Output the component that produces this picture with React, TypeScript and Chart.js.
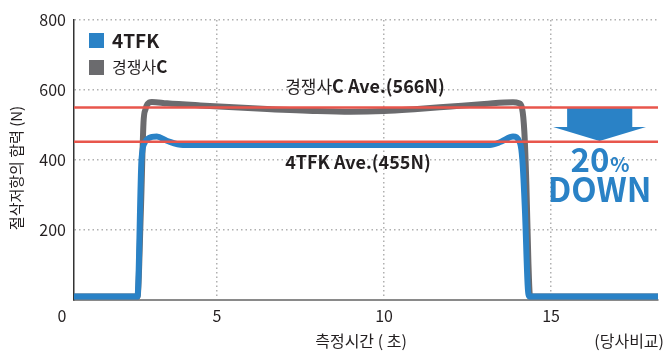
import React, { useEffect, useRef } from 'react';
import { Chart, registerables } from 'chart.js';
Chart.register(...registerables);

const xMin = 0.72;
const xMax = 18.2;
const xTicks = [5, 10, 15];
const yTicks = [200, 400, 600, 800];

const tfkX = [0.72, 2.62, 2.74, 2.84, 2.95, 3.2, 3.5, 3.98, 6, 9, 12, 13.17, 13.5, 13.86, 14.07, 14.14, 14.22, 14.3, 14.35, 18.2];
const tfkY = [10, 10, 400, 450, 462, 467, 455, 443, 443, 443, 443, 443, 452, 467, 449, 400, 250, 40, 10, 10];

const compX = [0.72, 2.62, 2.72, 2.8, 2.86, 2.92, 3.05, 3.5, 4.5, 6.5, 8, 9, 10, 11, 12, 13, 13.86, 14.04, 14.13, 14.2, 14.26, 14.32, 14.37, 18.2];
const compY = [10, 10, 250, 506, 545, 560, 566, 562, 556, 546, 540, 538, 540, 546, 553, 560, 565, 562, 548, 480, 330, 110, 10, 10];

const compAve = 550;
const tfkAve = 452;

const FONT = '"Noto Sans CJK KR", "Noto Sans", sans-serif';
const BLUE = '#2a82c6';
const GRAY = '#6b6b6e';
const RED = '#e8564c';

function pts(xs: number[], ys: number[]) {
  return xs.map((x, i) => ({ x, y: ys[i] }));
}

function runs(ctx: CanvasRenderingContext2D, x: number, y: number, parts: [string, string][], color: string) {
  let cx = x;
  ctx.fillStyle = color;
  ctx.textAlign = 'left';
  ctx.textBaseline = 'middle';
  for (const [font, t] of parts) {
    ctx.font = font;
    ctx.fillText(t, cx, y);
    cx += ctx.measureText(t).width;
  }
}

const overlay = {
  id: 'overlay',
  beforeDatasetsDraw(chart: any) {
    const { ctx, scales } = chart;
    const x = scales.x, y = scales.y;
    ctx.save();
    ctx.fillStyle = BLUE;
    const rx1 = x.getPixelForValue(15.48), rx2 = x.getPixelForValue(17.43);
    const ry1 = y.getPixelForValue(compAve), ry2 = y.getPixelForValue(494);
    ctx.fillRect(rx1, ry1, rx2 - rx1, ry2 - ry1 + 0.5);
    ctx.beginPath();
    ctx.moveTo(x.getPixelForValue(15.06), ry2);
    ctx.lineTo(x.getPixelForValue(17.84), ry2);
    ctx.lineTo(x.getPixelForValue(16.45), y.getPixelForValue(454));
    ctx.closePath();
    ctx.fill();
    ctx.restore();
  },
  afterDraw(chart: any) {
    const { ctx, chartArea, scales } = chart;
    const x = scales.x, y = scales.y;
    ctx.save();
    // legend
    const lx = chartArea.left + 15;
    ctx.fillStyle = BLUE;
    ctx.fillRect(lx, chartArea.top + 13, 15, 15);
    ctx.fillStyle = GRAY;
    ctx.fillRect(lx, chartArea.top + 40, 15, 15);
    runs(ctx, lx + 23, chartArea.top + 21, [['bold 19px ' + FONT, '4TFK']], '#231f20');
    runs(ctx, lx + 23, chartArea.top + 47, [['16px ' + FONT, '경쟁사'], ['bold 17px ' + FONT, 'C']], '#231f20');

    // average labels
    runs(ctx, x.getPixelForValue(7.04), y.getPixelForValue(611), [['17px ' + FONT, '경쟁사'], ['bold 18px ' + FONT, 'C Ave.(566N)']], '#231f20');
    runs(ctx, x.getPixelForValue(7.04), y.getPixelForValue(395), [['bold 18px ' + FONT, '4TFK Ave.(455N)']], '#231f20');

    // 20% DOWN
    const cxp = x.getPixelForValue(16.45);
    ctx.fillStyle = BLUE;
    ctx.textBaseline = 'alphabetic';
    ctx.font = 'bold 33px ' + FONT;
    const w20 = ctx.measureText('20').width;
    ctx.font = 'bold 20px ' + FONT;
    const wp = ctx.measureText('%').width;
    const sx = cxp - (w20 + wp) / 2;
    ctx.textAlign = 'left';
    ctx.font = 'bold 33px ' + FONT;
    ctx.fillText('20', sx, 172);
    ctx.font = 'bold 20px ' + FONT;
    ctx.fillText('%', sx + w20 + 1, 172);
    ctx.font = 'bold 33px ' + FONT;
    ctx.textAlign = 'center';
    ctx.fillText('DOWN', cxp, 202);

    // origin 0
    ctx.fillStyle = '#231f20';
    ctx.font = '16px ' + FONT;
    ctx.textAlign = 'center';
    ctx.textBaseline = 'middle';
    ctx.fillText('0', chartArea.left - 12, chartArea.bottom + 16);

    // x title
    ctx.font = '16px ' + FONT;
    ctx.fillText('측정시간 ( 초)', 361, 341);
    ctx.textAlign = 'right';
    ctx.fillText('(당사비교)', 664, 341);

    // y title
    ctx.font = '15px ' + FONT;
    ctx.translate(16, 168);
    ctx.rotate(-Math.PI / 2);
    ctx.textAlign = 'center';
    ctx.fillText('절삭저항의 합력 (N)', 0, 0);
    ctx.restore();
  },
};

export default function App() {
  const ref = useRef<HTMLCanvasElement>(null);
  useEffect(() => {
    document.body.style.margin = '0';
    const chart = new Chart(ref.current!, {
      type: 'line',
      data: {
        datasets: [
          { label: 'compAve', data: pts([xMin, xMax], [compAve, compAve]), borderColor: RED, borderWidth: 2.5, pointRadius: 0 },
          { label: 'tfkAve', data: pts([xMin, xMax], [tfkAve, tfkAve]), borderColor: RED, borderWidth: 2.5, pointRadius: 0 },
          { label: '4TFK', data: pts(tfkX, tfkY), borderColor: BLUE, borderWidth: 6, pointRadius: 0, cubicInterpolationMode: 'monotone', borderJoinStyle: 'round', borderCapStyle: 'round' },
          { label: '경쟁사C', data: pts(compX, compY), borderColor: GRAY, borderWidth: 6, pointRadius: 0, cubicInterpolationMode: 'monotone', borderJoinStyle: 'round', borderCapStyle: 'round' },
        ],
      },
      options: {
        animation: false,
        responsive: false,
        devicePixelRatio: 1,
        layout: { padding: { top: 20, right: 14, left: 0, bottom: 0 } },
        plugins: { legend: { display: false }, tooltip: { enabled: false } },
        scales: {
          x: {
            type: 'linear',
            min: xMin,
            max: xMax,
            afterBuildTicks: (s: any) => { s.ticks = xTicks.map((v) => ({ value: v })); },
            afterFit: (s: any) => { s.height = 54; },
            ticks: { font: { family: FONT, size: 16 }, color: '#231f20', padding: 6 },
            grid: { color: '#b0b0b0', lineWidth: 1.5, drawTicks: false },
            border: { display: true, color: '#8a8a8a', width: 2, dash: [1.5, 3] },
          },
          y: {
            min: 0,
            max: 800,
            afterBuildTicks: (s: any) => { s.ticks = [0, ...yTicks].map((v) => ({ value: v })); },
            afterFit: (s: any) => { s.width = 74; },
            ticks: { font: { family: FONT, size: 16 }, color: '#231f20', padding: 8, callback: (v: any) => (v === 0 ? '' : String(v)) },
            grid: { color: (c: any) => (c.tick && c.tick.value === 0 ? 'rgba(0,0,0,0)' : '#b0b0b0'), lineWidth: 1.5, drawTicks: false },
            border: { display: true, color: '#333', width: 1.5, dash: [1.5, 3] },
          },
        },
      },
      plugins: [overlay],
    } as any);
    return () => chart.destroy();
  }, []);
  return (
    <div style={{ position: 'absolute', left: 0, top: 0, width: 672, height: 354 }}>
      <canvas ref={ref} width={672} height={354} style={{ display: 'block' }} />
    </div>
  );
}
